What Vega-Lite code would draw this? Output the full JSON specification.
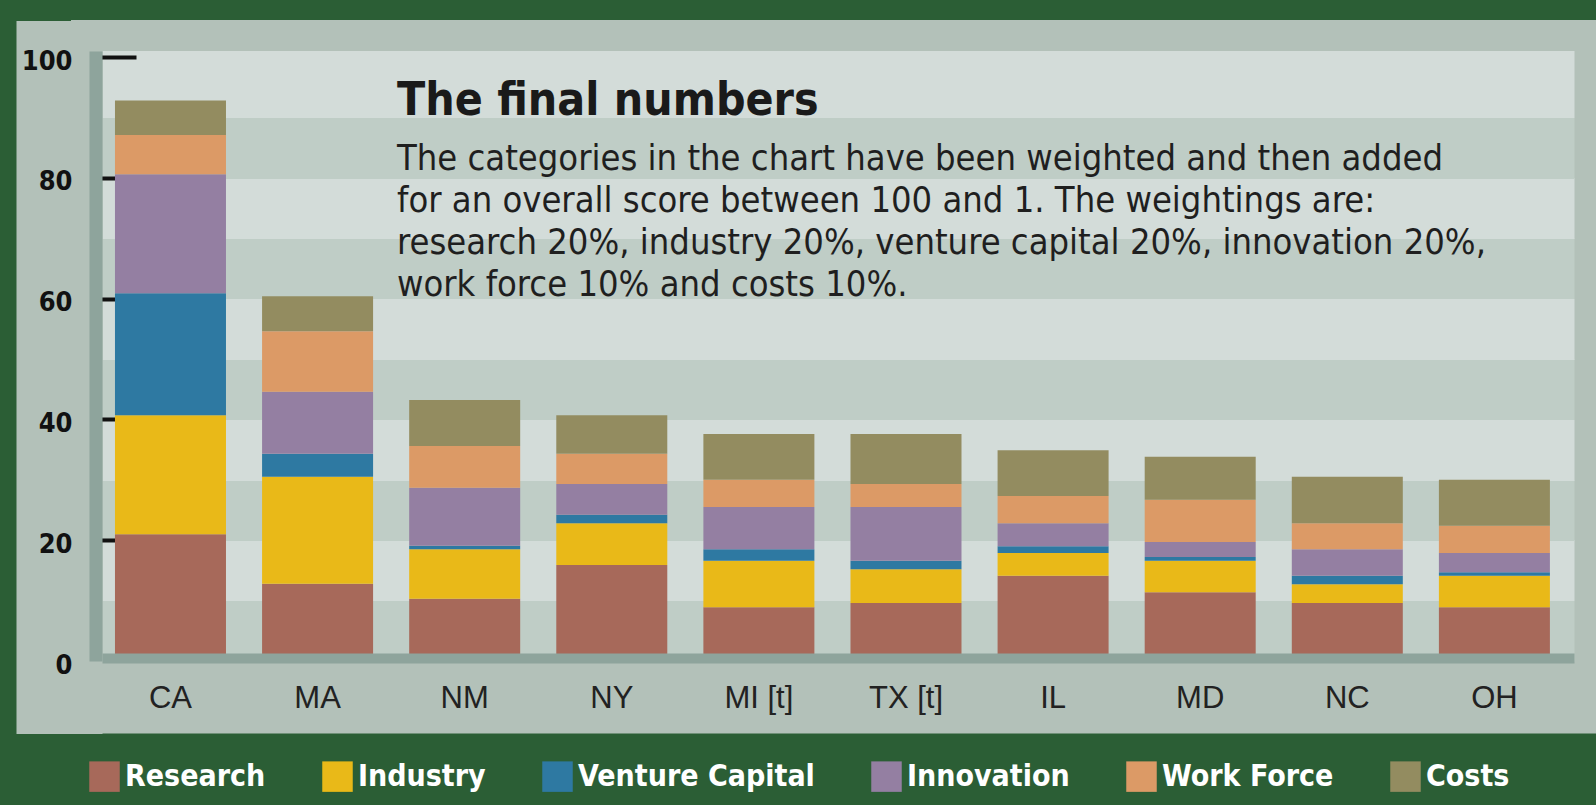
{
  "$schema": "https://vega.github.io/schema/vega-lite/v6.json",
  "width": 1472,
  "height": 610,
  "autosize": {"type": "none"},
  "padding": {"left": 102, "top": 51, "right": 22, "bottom": 144},
  "background": "#2b5e35",
  "view": {"fill": "#d3dcd9", "stroke": "#b3c1b9", "strokeWidth": 62},
  "title": {
    "text": "The final numbers",
    "subtitle": [
      "The categories in the chart have been weighted and then added",
      "for an overall score between 100 and 1. The weightings are:",
      "research 20%, industry 20%, venture capital 20%, innovation 20%,",
      "work force 10% and costs 10%."
    ],
    "anchor": "start",
    "frame": "group",
    "orient": "top",
    "offset": 0,
    "dx": 295,
    "dy": 283,
    "font": "DejaVu Sans Condensed, Roboto, sans-serif",
    "fontWeight": "bold",
    "fontSize": 46,
    "color": "#1a1a1a",
    "subtitleFont": "DejaVu Sans Condensed, Roboto, sans-serif",
    "subtitleFontWeight": "normal",
    "subtitleFontSize": 36,
    "subtitleColor": "#1f1f1f",
    "subtitleLineHeight": 42,
    "subtitlePadding": 17
  },
  "data": {
    "values": [
      {"state": "CA", "category": "Research", "value": 21.0},
      {"state": "CA", "category": "Industry", "value": 19.7},
      {"state": "CA", "category": "Venture Capital", "value": 20.2},
      {"state": "CA", "category": "Innovation", "value": 19.7},
      {"state": "CA", "category": "Work Force", "value": 6.5},
      {"state": "CA", "category": "Costs", "value": 5.7},
      {"state": "MA", "category": "Research", "value": 12.8},
      {"state": "MA", "category": "Industry", "value": 17.7},
      {"state": "MA", "category": "Venture Capital", "value": 3.8},
      {"state": "MA", "category": "Innovation", "value": 10.3},
      {"state": "MA", "category": "Work Force", "value": 10.0},
      {"state": "MA", "category": "Costs", "value": 5.8},
      {"state": "NM", "category": "Research", "value": 10.3},
      {"state": "NM", "category": "Industry", "value": 8.2},
      {"state": "NM", "category": "Venture Capital", "value": 0.6},
      {"state": "NM", "category": "Innovation", "value": 9.6},
      {"state": "NM", "category": "Work Force", "value": 6.9},
      {"state": "NM", "category": "Costs", "value": 7.6},
      {"state": "NY", "category": "Research", "value": 15.9},
      {"state": "NY", "category": "Industry", "value": 6.9},
      {"state": "NY", "category": "Venture Capital", "value": 1.4},
      {"state": "NY", "category": "Innovation", "value": 5.1},
      {"state": "NY", "category": "Work Force", "value": 5.0},
      {"state": "NY", "category": "Costs", "value": 6.4},
      {"state": "MI [t]", "category": "Research", "value": 8.9},
      {"state": "MI [t]", "category": "Industry", "value": 7.7},
      {"state": "MI [t]", "category": "Venture Capital", "value": 1.9},
      {"state": "MI [t]", "category": "Innovation", "value": 7.0},
      {"state": "MI [t]", "category": "Work Force", "value": 4.5},
      {"state": "MI [t]", "category": "Costs", "value": 7.6},
      {"state": "TX [t]", "category": "Research", "value": 9.6},
      {"state": "TX [t]", "category": "Industry", "value": 5.6},
      {"state": "TX [t]", "category": "Venture Capital", "value": 1.4},
      {"state": "TX [t]", "category": "Innovation", "value": 8.9},
      {"state": "TX [t]", "category": "Work Force", "value": 3.8},
      {"state": "TX [t]", "category": "Costs", "value": 8.3},
      {"state": "IL", "category": "Research", "value": 14.1},
      {"state": "IL", "category": "Industry", "value": 3.8},
      {"state": "IL", "category": "Venture Capital", "value": 1.1},
      {"state": "IL", "category": "Innovation", "value": 3.8},
      {"state": "IL", "category": "Work Force", "value": 4.5},
      {"state": "IL", "category": "Costs", "value": 7.6},
      {"state": "MD", "category": "Research", "value": 11.4},
      {"state": "MD", "category": "Industry", "value": 5.2},
      {"state": "MD", "category": "Venture Capital", "value": 0.6},
      {"state": "MD", "category": "Innovation", "value": 2.5},
      {"state": "MD", "category": "Work Force", "value": 7.0},
      {"state": "MD", "category": "Costs", "value": 7.1},
      {"state": "NC", "category": "Research", "value": 9.6},
      {"state": "NC", "category": "Industry", "value": 3.1},
      {"state": "NC", "category": "Venture Capital", "value": 1.4},
      {"state": "NC", "category": "Innovation", "value": 4.4},
      {"state": "NC", "category": "Work Force", "value": 4.3},
      {"state": "NC", "category": "Costs", "value": 7.7},
      {"state": "OH", "category": "Research", "value": 8.9},
      {"state": "OH", "category": "Industry", "value": 5.2},
      {"state": "OH", "category": "Venture Capital", "value": 0.6},
      {"state": "OH", "category": "Innovation", "value": 3.2},
      {"state": "OH", "category": "Work Force", "value": 4.5},
      {"state": "OH", "category": "Costs", "value": 7.6}
    ]
  },
  "transform": [
    {"calculate": "indexof(['Research','Industry','Venture Capital','Innovation','Work Force','Costs'], datum.category)", "as": "k"}
  ],
  "layer": [
    {
      "mark": {"type": "point", "opacity": 0},
      "encoding": {
        "x": {"field": "state", "type": "nominal", "sort": ["CA","MA","NM","NY","MI [t]","TX [t]","IL","MD","NC","OH"],
              "scale": {"type": "band", "paddingInner": 0.2454, "paddingOuter": 0.126, "align": 0.35},
              "axis": null},
        "y": {"field": "value", "type": "quantitative",
              "scale": {"domain": [0, 101], "nice": false, "zero": true},
              "axis": {"orient": "right", "values": [5,15,25,35,45,55,65,75,85,95.5],
                       "grid": true,
                       "gridColor": {"condition": {"test": "datum.value % 20 == 5", "value": "#bfcdc6"}, "value": "#d3dcd9"},
                       "gridWidth": {"condition": {"test": "datum.value > 90", "value": 67}, "value": 61},
                       "gridOpacity": 1, "gridCap": "butt",
                       "domain": false, "ticks": false, "labels": false, "title": null, "zindex": 0}}
      }
    },
    {
      "mark": {"type": "point", "opacity": 0},
      "encoding": {
        "x": {"field": "state", "type": "nominal", "sort": ["CA","MA","NM","NY","MI [t]","TX [t]","IL","MD","NC","OH"],
              "scale": {"type": "band", "paddingInner": 0.2454, "paddingOuter": 0.126, "align": 0.35},
              "axis": {"orient": "bottom", "offset": 36, "domain": true, "domainColor": "#b3c1b9", "domainWidth": 72, "domainCap": "square",
                       "ticks": false, "labels": false, "grid": false, "title": null, "zindex": 0}},
        "y": {"field": "value", "type": "quantitative",
              "scale": {"domain": [0, 101], "nice": false, "zero": true},
              "axis": {"orient": "left", "values": [47.1], "grid": false, "domain": false, "labels": false,
                       "ticks": true, "tickSize": 86, "tickWidth": 713, "tickColor": "#b3c1b9", "tickCap": "butt",
                       "title": null, "zindex": 0}}
      }
    },
    {
      "mark": {"type": "bar"},
      "encoding": {
        "x": {"field": "state", "type": "nominal", "sort": ["CA","MA","NM","NY","MI [t]","TX [t]","IL","MD","NC","OH"],
              "scale": {"type": "band", "paddingInner": 0.2454, "paddingOuter": 0.126, "align": 0.35},
              "axis": {"orient": "bottom", "offset": -3, "domain": true, "domainColor": "#8ea49c", "domainWidth": 10, "domainCap": "butt",
                       "ticks": false, "labels": true, "labelAngle": 0, "labelFont": "Liberation Sans", "labelFontSize": 31,
                       "labelColor": "#222222", "labelPadding": 25, "grid": false, "title": null, "zindex": 1}},
        "y": {"field": "value", "type": "quantitative", "stack": "zero",
              "scale": {"domain": [0, 101], "nice": false, "zero": true},
              "axis": {"orient": "left", "values": [0,20,40,60,80,100], "offset": 6.5,
                       "domain": true, "domainColor": "#8ea49c", "domainWidth": 13, "domainCap": "butt",
                       "ticks": true, "tickSize": -40.5, "tickWidth": 4, "tickColor": "#111111", "tickCap": "butt",
                       "tickOpacity": {"condition": {"test": "datum.value == 0", "value": 0}, "value": 1},
                       "labels": true, "labelFont": "DejaVu Sans Condensed, Roboto, sans-serif", "labelFontWeight": "bold", "labelFontSize": 27,
                       "labelColor": "#111111", "labelPadding": 64, "labelOffset": 4, "labelAlign": "right",
                       "grid": false, "title": null, "zindex": 0}},
        "color": {"field": "category", "type": "nominal",
                  "sort": ["Research","Industry","Venture Capital","Innovation","Work Force","Costs"],
                  "scale": {"domain": ["Research","Industry","Venture Capital","Innovation","Work Force","Costs"],
                            "range": ["#a7695a","#e9b918","#2e79a2","#947fa2","#dc9a66","#938c60"]},
                  "legend": {"orient": "none", "legendX": -13, "legendY": 710, "direction": "horizontal", "columns": 6,
                             "title": null, "symbolType": "square", "symbolSize": 930, "symbolStrokeWidth": 0, "symbolOpacity": 1,
                             "labelColor": "#ffffff", "labelFont": "DejaVu Sans Condensed, Roboto, sans-serif", "labelFontWeight": "bold",
                             "labelFontSize": 30, "labelOffset": 5, "labelLimit": 400, "columnPadding": 56, "padding": 0}},
        "order": {"field": "k", "type": "quantitative"}
      }
    }
  ],
  "resolve": {"axis": {"x": "independent", "y": "independent"}}
}
